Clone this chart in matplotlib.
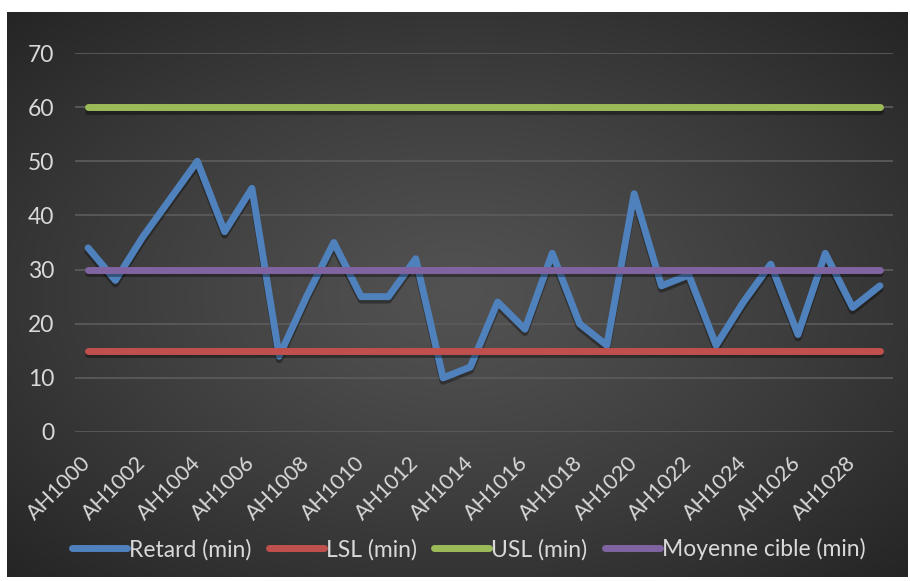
import numpy as np
import matplotlib
matplotlib.use('Agg')
import matplotlib.pyplot as plt
import matplotlib.patheffects as pe

# Delay per flight, with spec limits and target mean
flights = [f"AH{1000 + i}" for i in range(30)]
retard = [34, 28, 36, 43, 50, 37, 45, 14, 25, 35,
          25, 25, 32, 10, 12, 24, 19, 33, 20, 16,
          44, 27, 29, 16, 24, 31, 18, 33, 23, 27]
lsl = [15] * 30
usl = [60] * 30
cible = [30] * 30

BLUE = '#4F81BD'
RED = '#C0504D'
GREEN = '#9BBB59'
PURPLE = '#8064A2'
TEXT = '#D9D9D9'
GRID = '#5A5A5A'

plt.rcParams['font.family'] = ['Lato', 'DejaVu Sans']

fig = plt.figure(figsize=(9.10, 5.81), dpi=100, facecolor='white')

# dark radial backdrop
bg = fig.add_axes([7 / 910, 4 / 581, 901 / 910, 565 / 581])
gx, gy = np.meshgrid(np.linspace(-1, 1, 400), np.linspace(-1, 1, 260))
r = np.clip(np.sqrt(gx ** 2 + gy ** 2) / np.sqrt(2), 0, 1)
c0, c1 = 0x52 / 255, 0x25 / 255
shade = c0 + (c1 - c0) * r ** 1.2
bg.imshow(np.dstack([shade, shade, shade]), aspect='auto', extent=[0, 1, 0, 1])
bg.set_axis_off()

ax = fig.add_axes([75 / 910, (581 - 432) / 581, (893 - 75) / 910, (432 - 53) / 581])
ax.set_facecolor('none')
x = np.arange(len(flights))

shadow = [pe.SimpleLineShadow(offset=(0, -2.5), alpha=0.35, shadow_color='black'), pe.Normal()]
kw = dict(lw=5, solid_capstyle='round', solid_joinstyle='round', path_effects=shadow)
ax.plot(x, retard, color=BLUE, label='Retard (min)', zorder=3, **kw)
ax.plot(x, lsl, color=RED, label='LSL (min)', zorder=4, **kw)
ax.plot(x, usl, color=GREEN, label='USL (min)', zorder=4, **kw)
ax.plot(x, cible, color=PURPLE, label='Moyenne cible (min)', zorder=4, **kw)

ax.set_xlim(-0.48, 29.48)
ax.set_ylim(0, 70)
ax.set_yticks(range(0, 71, 10))
ax.yaxis.grid(True, color=GRID, lw=1.3)
ax.set_axisbelow(True)
for s in ax.spines.values():
    s.set_visible(False)
ax.tick_params(axis='y', length=0, pad=15, labelsize=16.5, labelcolor=TEXT)

ax.set_xticks(x[::2])
ax.set_xticklabels(flights[::2], rotation=45, ha='right', va='center',
                   rotation_mode='anchor')
ax.tick_params(axis='x', length=0, pad=20, labelsize=15.5, labelcolor=TEXT)

leg = fig.legend(loc='center', bbox_to_anchor=(0.515, 0.055), ncol=4, frameon=False,
                 fontsize=16.5, handlelength=2.4, handletextpad=0.1, columnspacing=0.75,
                 labelcolor=TEXT)
for h in leg.legend_handles:
    h.set_path_effects([])

fig.savefig('out.png', dpi=100, facecolor='white')
